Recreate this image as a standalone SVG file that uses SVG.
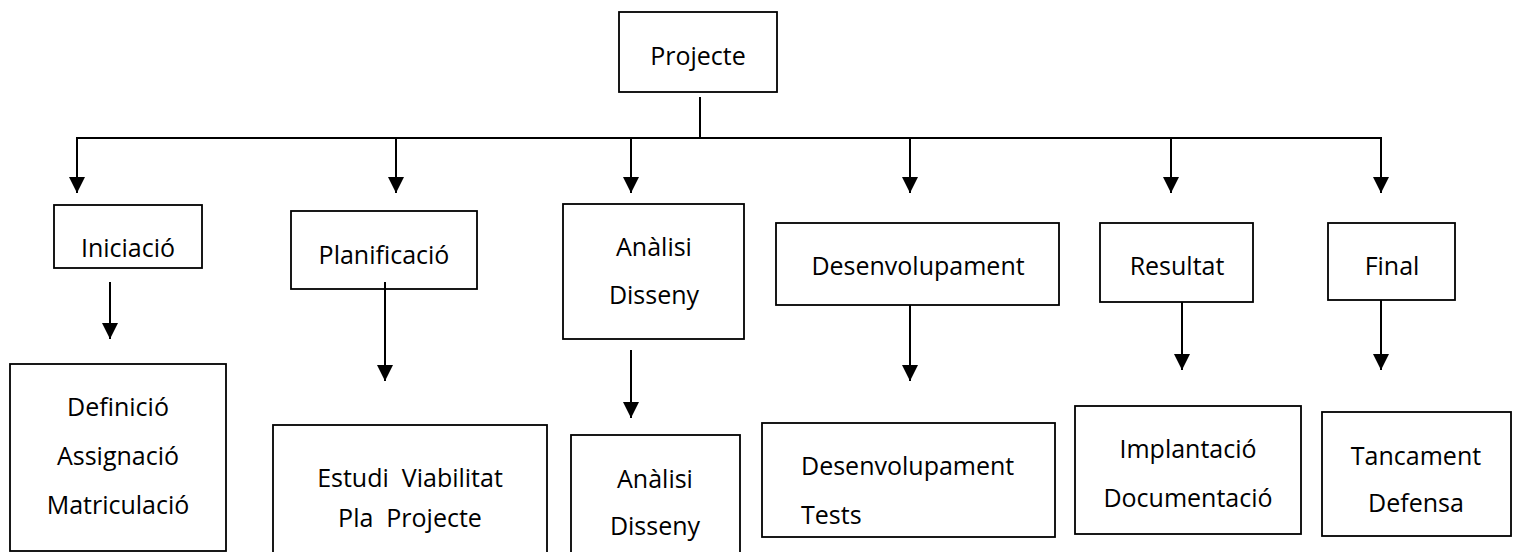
<svg xmlns="http://www.w3.org/2000/svg" width="1517" height="552" viewBox="0 0 1517 552">
<style>
.box{fill:#fff;stroke:#000;stroke-width:1.8}
.t{font-family:"Open Sans","Noto Sans","Liberation Sans",sans-serif;font-size:25px;fill:#000;text-anchor:middle;white-space:pre}
.s{text-anchor:start}
.c{fill:none;stroke:#000;stroke-width:2}
</style>
<defs>
<marker id="ah" markerUnits="userSpaceOnUse" markerWidth="16" markerHeight="16" refX="15" refY="7.5" orient="auto" viewBox="0 0 15 15">
<path d="M0,0 L15,7.5 L0,15 z" fill="#000"/>
</marker>
</defs>
<rect width="1517" height="552" fill="#fff"/>
<g id="connectors">
<line class="c" x1="700" y1="97" x2="700" y2="138"/>
<polyline class="c" points="77,150 77,138 1381,138 1381,150"/>
<line class="c" x1="77" y1="138" x2="77" y2="193" marker-end="url(#ah)"/>
<line class="c" x1="396" y1="138" x2="396" y2="193" marker-end="url(#ah)"/>
<line class="c" x1="631" y1="138" x2="631" y2="193" marker-end="url(#ah)"/>
<line class="c" x1="910" y1="138" x2="910" y2="193" marker-end="url(#ah)"/>
<line class="c" x1="1171" y1="138" x2="1171" y2="193" marker-end="url(#ah)"/>
<line class="c" x1="1381" y1="138" x2="1381" y2="193" marker-end="url(#ah)"/>
<line class="c" x1="110" y1="282" x2="110" y2="339" marker-end="url(#ah)"/>
<line class="c" x1="631" y1="350" x2="631" y2="418" marker-end="url(#ah)"/>
<line class="c" x1="910" y1="305" x2="910" y2="381" marker-end="url(#ah)"/>
<line class="c" x1="1182" y1="302" x2="1182" y2="370" marker-end="url(#ah)"/>
<line class="c" x1="1381" y1="300" x2="1381" y2="370" marker-end="url(#ah)"/>
</g>
<g id="projecte"><rect class="box" x="619" y="12" width="158" height="80"/><text class="t" x="698" y="65">Projecte</text></g>
<g id="iniciacio"><rect class="box" x="54" y="205" width="148" height="63"/><text class="t" x="128" y="257">Iniciació</text></g>
<g id="planificacio"><rect class="box" x="291" y="211" width="186" height="78"/><text class="t" x="384" y="264">Planificació</text></g>
<g id="analisi"><rect class="box" x="563" y="204" width="181" height="135"/><text class="t" x="654" y="256">Anàlisi</text><text class="t" x="654" y="304">Disseny</text></g>
<g id="desenvolupament"><rect class="box" x="776" y="223" width="283" height="82"/><text class="t" x="918" y="275">Desenvolupament</text></g>
<g id="resultat"><rect class="box" x="1100" y="223" width="153" height="79"/><text class="t" x="1177" y="275">Resultat</text></g>
<g id="final"><rect class="box" x="1328" y="223" width="127" height="77"/><text class="t" x="1392" y="275">Final</text></g>
<g id="planificacio-arrow"><line class="c" x1="385" y1="282" x2="385" y2="381" marker-end="url(#ah)"/></g>
<g id="definicio"><rect class="box" x="10" y="364" width="216" height="187"/><text class="t" x="118" y="416">Definició</text><text class="t" x="118" y="465">Assignació</text><text class="t" x="118" y="514">Matriculació</text></g>
<g id="estudi"><rect class="box" x="273" y="425" width="274" height="140"/><text class="t" x="410" y="487" xml:space="preserve">Estudi  Viabilitat</text><text class="t" x="410" y="527" xml:space="preserve">Pla  Projecte</text></g>
<g id="analisi2"><rect class="box" x="571" y="435" width="169" height="130"/><text class="t" x="655" y="488">Anàlisi</text><text class="t" x="655" y="535">Disseny</text></g>
<g id="desenvolupament2"><rect class="box" x="762" y="423" width="293" height="114"/><text class="t s" x="801" y="475">Desenvolupament</text><text class="t s" x="801" y="524">Tests</text></g>
<g id="implantacio"><rect class="box" x="1075" y="406" width="226" height="128"/><text class="t" x="1188" y="458">Implantació</text><text class="t" x="1188" y="507">Documentació</text></g>
<g id="tancament"><rect class="box" x="1322" y="412" width="189" height="124"/><text class="t" x="1416" y="465">Tancament</text><text class="t" x="1416" y="512">Defensa</text></g>
</svg>
